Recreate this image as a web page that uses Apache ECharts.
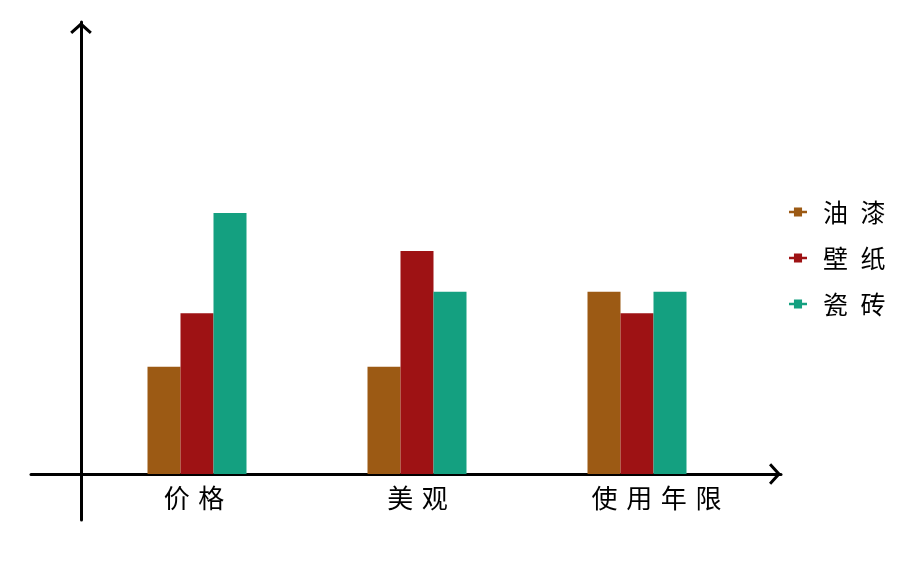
<!DOCTYPE html>
<html>
<head>
<meta charset="utf-8">
<script src="https://cdn.jsdelivr.net/npm/echarts@6/dist/echarts.min.js"></script>
<style>html,body{margin:0;padding:0;background:#fff}#c{width:900px;height:584px}</style>
</head>
<body>
<div id="c"></div>
<script>
const categories = ['价格', '美观', '使用年限'];
const seriesNames = ['油漆', '壁纸', '瓷砖'];
const paint = [20, 20, 34];
const wallpaper = [30, 41.6, 30];
const tile = [48.7, 34, 34];
const colors = ['#9C5A14', '#9E1214', '#14A080'];

const FONT = '"Noto Sans CJK SC", sans-serif';
const spaced = (s, sp) => s.split('').join(sp);
const chevron = 'path://M0,10 L11,0 L22,10 L20,12.2 L11,4.2 L2,12.2 Z';
const legendIcon = 'path://M0,3.5 H5.5 V0 H14.5 V3.5 H20 V6.5 H14.5 V10 H5.5 V6.5 H0 Z';
const labelStyles = ['a', 'b', 'c'];

const chart = echarts.init(document.getElementById('c'), null, {renderer: 'canvas'});
chart.setOption({
  animation: false,
  backgroundColor: '#fff',
  color: colors,
  legend: {
    orient: 'vertical',
    left: 789,
    top: 199,
    padding: 0,
    itemWidth: 20,
    itemHeight: 9,
    itemGap: 20,
    icon: legendIcon,
    data: seriesNames,
    formatter: n => spaced(n, '\u2002'),
    textStyle: {fontFamily: FONT, fontSize: 25, lineHeight: 26, color: '#000', padding: [0, 0, 0, 10]}
  },
  grid: [
    {left: 87, right: 153, top: 22, bottom: 110},
    {left: 31, right: 119, top: 22, bottom: 64}
  ],
  xAxis: [
    {
      type: 'category', gridIndex: 0, data: categories,
      axisLine: {show: false}, axisTick: {show: false},
      axisLabel: {margin: 11, fontFamily: FONT, fontSize: 26, color: '#000',
        formatter: (v, i) => '{' + labelStyles[i] + '|' + spaced(v, '\u2004') + '}',
        rich: {
          a: {fontFamily: FONT, fontSize: 26, color: '#000', padding: [0, 6, 0, 0]},
          b: {fontFamily: FONT, fontSize: 26, color: '#000', padding: [0, 0, 0, 1]},
          c: {fontFamily: FONT, fontSize: 26, color: '#000', padding: [0, 0, 0, 39]}
        }}
    },
    {
      type: 'value', gridIndex: 1, min: -50, max: 700,
      axisLine: {show: true, onZero: true, symbol: ['none', chevron], symbolSize: [22, 12], symbolOffset: [0, -6],
        lineStyle: {color: '#000', width: 3}},
      axisTick: {show: false}, axisLabel: {show: false}, splitLine: {show: false}
    }
  ],
  yAxis: [
    {type: 'value', gridIndex: 0, min: 0, max: 84.3, show: false},
    {
      type: 'value', gridIndex: 1, min: -46, max: 452,
      axisLine: {show: true, onZero: true, symbol: ['none', chevron], symbolSize: [22, 12], symbolOffset: [0, -6],
        lineStyle: {color: '#000', width: 3}},
      axisTick: {show: false}, axisLabel: {show: false}, splitLine: {show: false}
    }
  ],
  series: [
    {name: seriesNames[0], type: 'bar', data: paint, barWidth: 33, barGap: '0%', xAxisIndex: 0, yAxisIndex: 0},
    {name: seriesNames[1], type: 'bar', data: wallpaper, barWidth: 33, barGap: '0%', xAxisIndex: 0, yAxisIndex: 0},
    {name: seriesNames[2], type: 'bar', data: tile, barWidth: 33, barGap: '0%', xAxisIndex: 0, yAxisIndex: 0}
  ]
});
</script>
</body>
</html>
